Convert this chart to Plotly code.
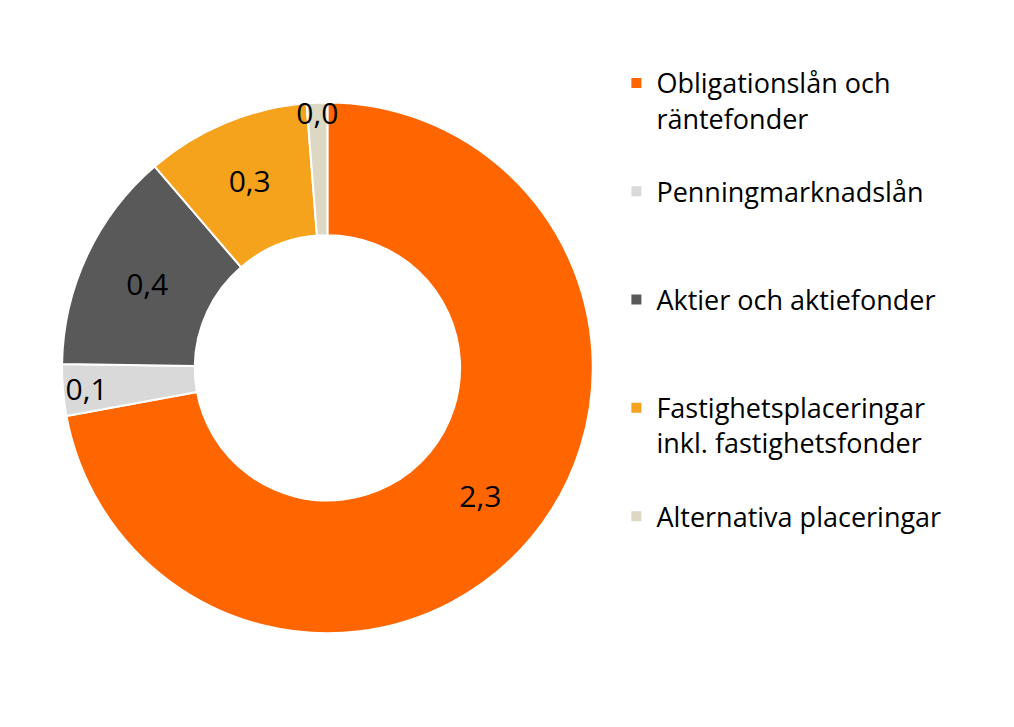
import plotly.graph_objects as go

categories = ["Obligationslån och<br>räntefonder<br> ", "Penningmarknadslån<br> <br> ", "Aktier och aktiefonder<br> <br> ",
              "Fastighetsplaceringar<br>inkl. fastighetsfonder<br> ", "Alternativa placeringar"]
values = [2.3, 0.1, 0.43, 0.32, 0.04]
labels_text = ["2,3", "0,1", "0,4", "0,3", "0,0"]
colors = ["#FF6600", "#D9D9D9", "#595959", "#F5A21C", "#DDD8C4"]

fig = go.Figure(go.Pie(
    labels=categories, values=values, text=labels_text, texttemplate="%{text}",
    textposition="inside", insidetextorientation="horizontal",
    textfont=dict(size=30, color="black", family="Open Sans"),
    hole=0.5, sort=False, direction="clockwise", rotation=0,
    marker=dict(colors=colors, line=dict(color="white", width=2)),
    domain=dict(x=[0.05, 0.58], y=[0.14, 0.87]),
))
fig.update_layout(
    width=1014, height=727, paper_bgcolor="white", plot_bgcolor="white",
    margin=dict(l=0, r=0, t=0, b=0),
    uniformtext=dict(minsize=30, mode="show"),
    legend=dict(x=0.6, y=0.93, yanchor="top", xanchor="left", valign="top",
                font=dict(size=27, color="black", family="Open Sans"),
                itemsizing="constant"),
)
fig.write_html("out.html")
